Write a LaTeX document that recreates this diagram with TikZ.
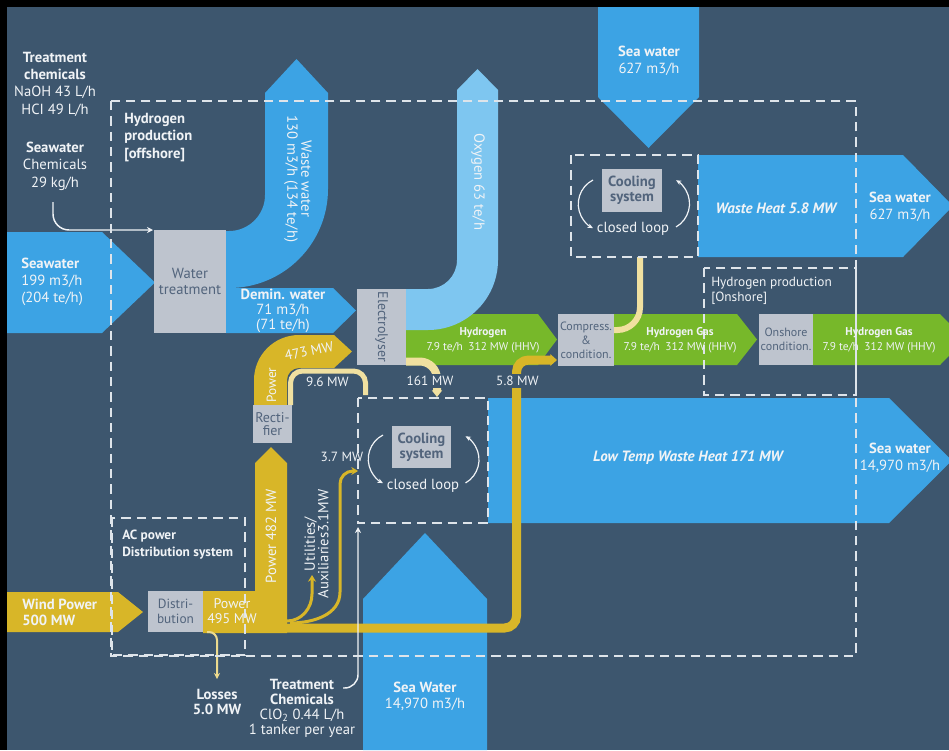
\documentclass[tikz,border=0pt]{standalone}
\usepackage{fontspec}
\setmainfont{PT Sans}
\usepackage{graphicx}
\usetikzlibrary{arrows.meta}
\definecolor{bg}{RGB}{61,86,110}
\definecolor{sea}{RGB}{60,163,228}
\definecolor{oxy}{RGB}{126,198,240}
\definecolor{pow}{RGB}{216,182,40}
\definecolor{pale}{RGB}{240,224,160}
\definecolor{hyd}{RGB}{119,184,42}
\definecolor{boxg}{RGB}{190,196,206}
\definecolor{boxt}{RGB}{82,100,124}
\definecolor{txt}{RGB}{240,243,246}
\definecolor{dashc}{RGB}{222,228,234}
\begin{document}
\begin{tikzpicture}[x=0.75pt,y=0.75pt,
  lbl/.style={text=txt,align=center,inner sep=0pt,font=\fontsize{11}{13}\selectfont},
  sml/.style={text=txt,align=center,inner sep=0pt,font=\fontsize{8.5}{11.25}\selectfont},
  mw/.style={text=txt,align=center,inner sep=0pt,font=\fontsize{10}{11}\selectfont},
  gbox/.style={fill=boxg,text=boxt,align=center,inner sep=0pt,font=\fontsize{9.5}{11}\selectfont},
  dbox/.style={draw=dashc,line width=1.5pt,dash pattern=on 7pt off 4.5pt},
  thinw/.style={draw=txt,line width=1.1pt,-{Stealth[length=4.5pt,width=4.5pt]}},
  loopw/.style={draw=txt,line width=0.9pt,-{Stealth[length=4pt,width=3.5pt]}},
  mask/.style={fill=bg,inner sep=1.5pt}
]
\useasboundingbox (0,0) rectangle (949,-750);
\clip (0,0) rectangle (949,-750);
\fill[black] (0,0) rectangle (949,-750);
\fill[bg] (7,-7) rectangle (949,-750);

% ---------- sea water flows ----------
\fill[sea] (598,-7) -- (699,-7) -- (699,-97) -- (648.5,-148) -- (598,-97) -- cycle;
\fill[sea] (698,-155) -- (903,-155) -- (953,-206) -- (903,-257) -- (698,-257) -- cycle;
\fill[sea] (488,-398) -- (889,-398) -- (952,-460.5) -- (889,-523) -- (488,-523) -- cycle;
\fill[sea] (363,-750) -- (363,-599) -- (425,-533) -- (487,-599) -- (487,-750) -- cycle;
\fill[sea] (7,-232) -- (102,-232) -- (155,-282.5) -- (102,-333) -- (7,-333) -- cycle;
% waste water elbow
\fill[sea] (226,-231) -- (229,-231) arc[start angle=270,end angle=360,radius=36] -- (265,-93) -- (296.5,-59) -- (328,-93) -- (328,-189) arc[start angle=0,end angle=-90,radius=99] -- (226,-288) -- cycle;
% demin water
\fill[sea] (226,-288) -- (333,-288) -- (356,-310.5) -- (333,-333) -- (226,-333) -- cycle;

% ---------- hydrogen ----------
\fill[hyd] (406,-314) -- (538,-314) -- (557,-339.5) -- (538,-365) -- (406,-365) -- cycle;
\fill[hyd] (614,-314) -- (737,-314) -- (757,-339.5) -- (737,-365) -- (614,-365) -- cycle;
\fill[hyd] (813,-314) -- (940,-314) -- (965,-339.5) -- (940,-365) -- (813,-365) -- cycle;
% oxygen elbow
\fill[oxy] (406,-289) -- (428,-289) arc[start angle=270,end angle=360,radius=29] -- (457,-90) -- (477.5,-69) -- (498,-90) -- (498,-260) arc[start angle=0,end angle=-90,radius=70] -- (406,-330) -- cycle;

% ---------- power ----------
\fill[pow] (7,-592) -- (118,-592) -- (143,-612) -- (118,-632) -- (7,-632) -- cycle;
\fill[pow] (203,-591) -- (255,-591) -- (255,-463) -- (271,-447) -- (287,-463) -- (287,-633) -- (203,-633) -- cycle;
\fill[pow] (254,-405) -- (254,-380) arc[start angle=180,end angle=90,radius=45] -- (334,-335) -- (352,-351.5) -- (334,-368) -- (299,-368) arc[start angle=90,end angle=180,radius=12] -- (287,-405) -- cycle;

\draw[pow,line width=6.75pt,rounded corners=9pt,-{Triangle[length=5pt,width=8.5pt]}] (284,-628) -- (516.5,-628) -- (516.5,-360) -- (557,-360);
\draw[pow,line width=2.25pt,-{Stealth[length=5pt,width=6pt]}] (287,-621) to[out=0,in=-90] (312,-594) -- (312,-575);
\draw[pow,line width=2.25pt,-{Stealth[length=5pt,width=6pt]}] (290,-623) to[out=0,in=-90] (340,-592) -- (340,-484) to[out=90,in=180] (353,-471) -- (358,-471);

% pale heat lines
\draw[pale,line width=3.75pt,rounded corners=9pt] (290.5,-405) -- (290.5,-371) -- (365.5,-371) -- (365.5,-395);
\draw[pale,line width=6pt,rounded corners=13pt,-{Triangle[length=5pt,width=7.5pt]}] (406,-361.5) -- (437,-361.5) -- (437,-397);
\draw[pale,line width=4.5pt,rounded corners=17pt] (640,-257) -- (640,-330) -- (614,-330);
\draw[pale!85!pow,line width=1.5pt,rounded corners=6pt,-{Stealth[length=4.5pt,width=4.5pt]}] (207,-632) -- (217,-632) -- (217,-679);

% white chemical lines
\draw[thinw,rounded corners=12pt] (53,-202) -- (53,-230) -- (153,-230);
\draw[thinw,rounded corners=10pt] (343,-688) -- (358,-688) -- (358,-527);

% closed loop arrows
\draw[loopw] (383,-435) arc[start angle=117,end angle=243,radius=27];
\draw[loopw] (465.5,-483) arc[start angle=-60,end angle=60,radius=27];
\draw[loopw] (593,-180) arc[start angle=117,end angle=243,radius=27];
\draw[loopw] (676,-227) arc[start angle=-60,end angle=60,radius=27];

% ---------- grey boxes ----------
\node[gbox,font=\fontsize{11}{12.5}\selectfont,minimum width=54pt,minimum height=77.25pt] (wt) at (190,-281.5) {Water\\treatment};
\node[gbox,font=\fontsize{10.5}{12}\selectfont,minimum width=36.75pt,minimum height=57pt] (ely) at (381.5,-327) {\rotatebox{-90}{Electrolyser}};
\node[gbox,font=\fontsize{9}{10.5}\selectfont,minimum width=42pt,minimum height=39pt] (cmp) at (586,-340) {Compress.\\\&\\condition.};
\node[gbox,font=\fontsize{9}{10.5}\selectfont,minimum width=40.5pt,minimum height=38.25pt] (ons) at (786,-339.5) {Onshore\\condition.};
\node[gbox,font=\fontsize{10.5}{10}\selectfont,minimum width=29.25pt,minimum height=28.5pt] (rect) at (272.5,-424) {Recti-\\fier};
\node[gbox,font=\fontsize{10}{11.25}\selectfont,minimum width=41.25pt,minimum height=30.75pt] (dist) at (175.5,-611.5) {Distri-\\bution};
\node[gbox,font=\fontsize{11}{11}\selectfont\bfseries,minimum width=45pt,minimum height=32.25pt] (cs1) at (632,-190.5) {Cooling\\system};
\node[gbox,font=\fontsize{11}{11}\selectfont\bfseries,minimum width=44.25pt,minimum height=31.5pt] (cs2) at (421.5,-447) {Cooling\\system};

% ---------- dashed boundaries ----------
\draw[dbox] (111,-101) rectangle (856,-656);
\draw[dbox] (571,-155) rectangle (698,-257);
\draw[dbox] (358,-398) rectangle (488,-523);
\draw[dbox] (704,-268) rectangle (856,-395);
\draw[dbox] (112,-518) rectangle (245,-655);

% ---------- labels ----------
\node[lbl] (tc1) at (55,-84) {\textbf{Treatment}\\\textbf{chemicals}\\NaOH 43 L/h\\HCI 49 L/h};
\node[lbl] (tc2) at (55,-166) {\textbf{Seawater}\\Chemicals\\29 kg/h};
\node[lbl,align=left,anchor=west,font=\fontsize{11}{12.75}\selectfont] (swin) at (21,-282) {\textbf{Seawater}\\199 m3/h\\(204 te/h)};
\node[lbl,align=left,anchor=west,font=\fontsize{11}{13}\selectfont\bfseries] (hpo) at (124,-137.5) {Hydrogen\\production\\{[offshore]}};
\node[lbl,rotate=-90,font=\fontsize{11}{10.5}\selectfont] (ww) at (298,-179) {Waste water\\130 m3/h (134 te/h)};
\node[lbl,rotate=-90] (oxl) at (478,-182) {Oxygen 63 te/h};
\node[lbl,font=\fontsize{11}{11.25}\selectfont] (dm) at (283,-311) {\textbf{Demin. water}\\71 m3/h\\(71 te/h)};
\node[lbl,rotate=90,font=\fontsize{10}{11}\selectfont] (p473a) at (271.5,-385) {Power};
\node[lbl,rotate=12,font=\fontsize{10.5}{11}\selectfont] (p473b) at (309,-351) {473 MW};
\node[sml] (h1) at (483,-340) {\textbf{Hydrogen}\\7.9 te/h\enspace 312 MW (HHV)};
\node[sml] (h2) at (680,-340) {\textbf{Hydrogen Gas}\\7.9 te/h\enspace 312 MW (HHV)};
\node[sml] (h3) at (879,-340) {\textbf{Hydrogen Gas}\\7.9 te/h\enspace 312 MW (HHV)};
\node[lbl,align=left,anchor=west,font=\fontsize{10}{11.25}\selectfont] (onl) at (711,-290.5) {Hydrogen production\\{[Onshore]}};
\node[lbl] (sw1) at (649,-60.5) {\textbf{Sea water}\\627 m3/h};
\node[lbl] (sw2) at (900,-206.5) {\textbf{Sea water}\\627 m3/h};
\node[lbl] (sw3) at (900,-458) {\textbf{Sea water}\\14,970 m3/h};
\node[lbl,font=\fontsize{11.2}{13}\selectfont\bfseries\itshape] (wh) at (776,-208) {Waste Heat 5.8 MW};
\node[lbl,font=\fontsize{11.2}{13}\selectfont\bfseries\itshape] (lt) at (688,-458) {Low Temp Waste Heat 171 MW};
\node[lbl] (cl1) at (633,-229) {closed loop};
\node[lbl] (cl2) at (423,-486) {closed loop};
\node[mw] (l96) at (327.5,-382) {9.6 MW};
\node[mw,mask] (l161) at (430,-381) {161 MW};
\node[mw,mask] (l58) at (517.5,-381) {5.8 MW};
\node[mw] (l37) at (342,-457) {3.7 MW};
\node[lbl,rotate=90] (p482) at (271,-536) {Power 482 MW};
\node[lbl,rotate=90,font=\fontsize{11}{10}\selectfont] (util) at (316.5,-544) {Utilities/\\Auxiliaries3.1MW};
\node[lbl,font=\fontsize{10.5}{11.25}\selectfont] (p495) at (232,-611) {Power\\495 MW};
\node[lbl,align=left,anchor=west,font=\fontsize{11}{12}\selectfont\bfseries] (wind) at (22,-612) {Wind Power\\500 MW};
\node[lbl,align=left,anchor=west,font=\fontsize{10}{12.75}\selectfont\bfseries] (acl) at (122,-544.5) {AC power\\Distribution system};
\node[lbl,font=\fontsize{11}{11.25}\selectfont\bfseries] (loss) at (217,-701.5) {Losses\\5.0 MW};
\node[lbl,font=\fontsize{11}{11.25}\selectfont] (tc3) at (302,-708.5) {\textbf{Treatment}\\\textbf{Chemicals}\\ClO\textsubscript{2} 0.44 L/h\\1 tanker per year};
\node[lbl,font=\fontsize{11}{12}\selectfont] (sw4) at (425,-696) {\textbf{Sea Water}\\14,970 m3/h};
\end{tikzpicture}
\end{document}
